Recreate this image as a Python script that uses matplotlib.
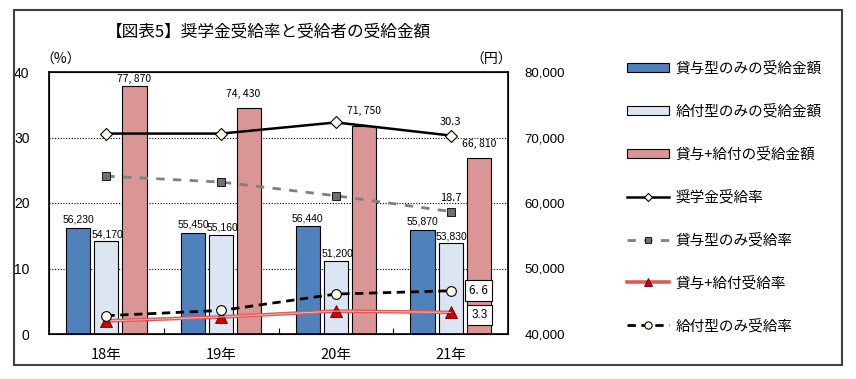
import matplotlib
matplotlib.use('Agg')
import matplotlib.pyplot as plt
from matplotlib.ticker import FixedLocator
import numpy as np

plt.rcParams['font.family'] = ['Noto Sans CJK JP', 'DejaVu Sans']

years = ['18年', '19年', '20年', '21年']

# amounts (yen) - right axis
loan_only_amt = [56230, 55450, 56440, 55870]
grant_only_amt = [54170, 55160, 51200, 53830]
both_amt = [77870, 74430, 71750, 66810]
both_amt_labels = ['77, 870', '74, 430', '71, 750', '66, 810']

# rates (%) - left axis
total_rate = [30.6, 30.6, 32.3, 30.3]
loan_only_rate = [24.1, 23.2, 21.1, 18.7]
both_rate = [2.0, 2.6, 3.5, 3.3]
grant_only_rate = [2.8, 3.6, 6.1, 6.6]

legend_labels = ['貸与型のみの受給金額', '給付型のみの受給金額', '貸与+給付の受給金額',
                 '奨学金受給率', '貸与型のみ受給率', '貸与+給付受給率', '給付型のみ受給率']

W, H = 856, 379
fig = plt.figure(figsize=(W / 100, H / 100), dpi=100)

# outer frame
fig.patches.append(plt.Rectangle((14 / W, 1 - 365 / H), 828 / W, 355 / H,
                                 transform=fig.transFigure, fill=False,
                                 edgecolor='#404040', linewidth=1.5))

ax = fig.add_axes([49 / W, 1 - 334 / H, 459 / W, 262 / H])
ax2 = ax.twinx()
ax.set_zorder(ax2.get_zorder() + 1)
ax.patch.set_visible(False)

x = np.arange(len(years))
bw = 0.21
off = 0.245

b1 = ax2.bar(x - off, loan_only_amt, bw, color='#4f81bd', edgecolor='black', linewidth=0.8, zorder=3)
b2 = ax2.bar(x, grant_only_amt, bw, color='#dce6f2', edgecolor='black', linewidth=0.8, zorder=3)
b3 = ax2.bar(x + off, both_amt, bw, color='#d99694', edgecolor='black', linewidth=0.8, zorder=3)

for i in range(len(years)):
    ax2.text(x[i] - off, loan_only_amt[i] + 500, f'{loan_only_amt[i]:,}', ha='center', va='bottom',
             fontsize=7.5, family='Liberation Sans', zorder=5)
    ax2.text(x[i] + 0.01, grant_only_amt[i] + 300, f'{grant_only_amt[i]:,}', ha='center', va='bottom',
             fontsize=7.5, family='Liberation Sans', zorder=5)
for i, lab in enumerate(both_amt_labels):
    dy = 300 if i == 0 else 1500
    ax2.text(x[i] + off - (0.0 if i != 1 else 0.05), both_amt[i] + dy, lab, ha='center', va='bottom',
             fontsize=7.5, zorder=5)

ax2.set_ylim(40000, 80000)
ax2.yaxis.set_major_locator(FixedLocator([40000, 50000, 60000, 70000, 80000]))
ax2.set_yticklabels(['40,000', '50,000', '60,000', '70,000', '80,000'])
ax2.yaxis.grid(True, linestyle=(0, (1, 1.5)), color='black', linewidth=0.8)
ax2.set_axisbelow(True)
ax2.tick_params(axis='y', length=0, pad=12, labelsize=9.5)
for t in ax2.get_yticklabels():
    t.set_family('Liberation Sans')

l1, = ax.plot(x, total_rate, color='black', linewidth=1.8, marker='D', markersize=6,
              markerfacecolor='#fffff0', markeredgecolor='black', markeredgewidth=0.8)
l2, = ax.plot(x, loan_only_rate, color='#808080', linewidth=2, linestyle=(0, (3, 3)), marker='s',
              markersize=6, markerfacecolor='#707070', markeredgecolor='black', markeredgewidth=0.6)
l3, = ax.plot(x, both_rate, color='#e05858', linewidth=2.6, marker='^', markersize=8,
              markerfacecolor='#d00000', markeredgecolor='#600000', markeredgewidth=0.6)
ax.plot(x, both_rate, color='#f4b8b8', linewidth=0.7)
l4, = ax.plot(x, grant_only_rate, color='black', linewidth=2, linestyle=(0, (3, 2)), marker='o',
              markersize=7, markerfacecolor='#fffde8', markeredgecolor='black', markeredgewidth=0.8)

ax.text(x[3], total_rate[3] + 1.3, f'{total_rate[3]}', ha='center', va='bottom', fontsize=8)
ax.text(x[3], loan_only_rate[3] + 1.3, f'{loan_only_rate[3]}', ha='center', va='bottom', fontsize=8)
box = dict(boxstyle='square,pad=0.35', facecolor='white', edgecolor='black', linewidth=0.8)
ax.text(x[3] + 0.16, grant_only_rate[3], '6. 6', ha='left', va='center', fontsize=8.5, bbox=box)
ax.text(x[3] + 0.18, both_rate[3] - 0.4, f'{both_rate[3]}', ha='left', va='center', fontsize=8.5,
        family='Liberation Sans', bbox=box)

ax.set_ylim(0, 40)
ax.set_xlim(-0.5, len(years) - 0.5)
ax.yaxis.set_major_locator(FixedLocator([0, 10, 20, 30, 40]))
ax.tick_params(axis='y', length=0, pad=14, labelsize=10)
for t in ax.get_yticklabels():
    t.set_family('Liberation Sans')
ax.set_xticks(x)
ax.set_xticklabels(years, fontsize=10.5)
ax.tick_params(axis='x', length=0, pad=10)
ax.xaxis.set_minor_locator(FixedLocator([0.5, 1.5, 2.5]))
ax.tick_params(axis='x', which='minor', direction='in', length=4, width=0.8)
for sp in ax.spines.values():
    sp.set_linewidth(1.2)

fig.text(268 / W, 1 - 32 / H, '【図表5】奨学金受給率と受給者の受給金額', ha='center', va='center', fontsize=12)
fig.text(40 / W, 1 - 60 / H, '（%）', ha='left', va='center', fontsize=10)
fig.text(470 / W, 1 - 60 / H, '（円）', ha='left', va='center', fontsize=10)

fig.legend([b1, b2, b3, l1, l2, l3, l4], legend_labels, loc='upper left',
           bbox_to_anchor=(627 / W, 1 - 61 / H), frameon=False, fontsize=10.5,
           labelspacing=1.95, handlelength=2.9, handletextpad=0.4, borderpad=0,
           borderaxespad=0, handleheight=0.6, markerscale=0.75)

fig.savefig('out.png', dpi=100)
